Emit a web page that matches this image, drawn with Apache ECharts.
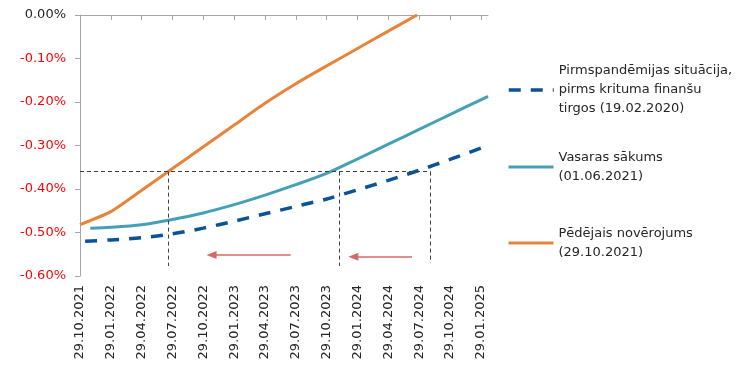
<!DOCTYPE html>
<html>
<head>
<meta charset="utf-8">
<script src="https://cdn.jsdelivr.net/npm/echarts@6/dist/echarts.min.js"></script>
<style>
html,body{margin:0;padding:0;background:#fff;}
#chart{width:750px;height:369px;}
</style>
</head>
<body>
<div id="chart"></div>
<script>
// ---- data ----
const tickLabels = ['29.10.2021','29.01.2022','29.04.2022','29.07.2022','29.10.2022','29.01.2023','29.04.2023','29.07.2023','29.10.2023','29.01.2024','29.04.2024','29.07.2024','29.10.2024','29.01.2025'];
const tickMonths = [0,3,6,9,12,15,18,21,24,27,30,33,36,39]; // months after 29.10.2021
const xMaxMonths = 39.7;

const seriesNames = [
  'Pirmspandēmijas situācija,\npirms krituma finanšu\ntirgos (19.02.2020)',
  'Vasaras sākums\n(01.06.2021)',
  'Pēdējais novērojums\n(29.10.2021)'
];

const preMonths = [0.5,3,6,9,12,15,18,21,24,27,30,33,36,39];
const preVals   = [-0.520,-0.517,-0.512,-0.503,-0.490,-0.474,-0.457,-0.440,-0.423,-0.402,-0.380,-0.357,-0.332,-0.306];

const summerMonths = [1,3,6,9,12,15,18,21,24,27,30,33,36,39,39.7];
const summerVals   = [-0.490,-0.488,-0.482,-0.470,-0.455,-0.436,-0.414,-0.390,-0.364,-0.331,-0.297,-0.263,-0.229,-0.195,-0.187];

const lastMonths = [0,3,6,9,12,15,18,21,24,27,30,32.8];
const lastVals   = [-0.482,-0.452,-0.403,-0.353,-0.303,-0.253,-0.203,-0.158,-0.117,-0.077,-0.037,0.000];

// annotation values
const refLevel = -0.36;
const crossMonths = [8.6, 25.2, 34.1];
const crossBottoms = [-0.577, -0.577, -0.570];
const arrowFrom = [20.5, 32.3];
const arrowTo = [12.8, 26.6];
const arrowLevels = [-0.552, -0.556];

// ---- build ----
const zip = (xs, ys) => xs.map((x, i) => [x, ys[i]]);
const FONT = 'DejaVu Sans';
const TXT = '#262626';
const COLORS = ['#0b5394', '#45a0b6', '#e8843a'];
const WIDTHS = [3.5, 3, 3];

const refLines = [[{coord:[0, refLevel]},{coord:[crossMonths[2], refLevel]}]];
crossMonths.forEach((m, i) => refLines.push([{coord:[m, refLevel]},{coord:[m, crossBottoms[i]]}]));
const arrows = arrowFrom.map((m, i) => [{coord:[m, arrowLevels[i]]},{coord:[arrowTo[i], arrowLevels[i]]}]);

const legendTops = [42.5, 138.5, 214.5];
const legendPads = [38, 19, 19];

const chart = echarts.init(document.getElementById('chart'), null, {renderer:'canvas'});
chart.setOption({
  animation: false,
  backgroundColor: '#fff',
  grid: {left: 80, right: 262, top: 15, bottom: 93, containLabel: false, outerBoundsMode: 'none'},
  xAxis: [{
    type: 'value', min: 0, max: xMaxMonths, interval: 3, position: 'bottom',
    axisLine: {show: false}, axisTick: {show: false}, splitLine: {show: false},
    axisLabel: {
      show: true, rotate: 90, margin: 9, fontFamily: FONT, fontSize: 13, color: TXT,
      customValues: tickMonths,
      formatter: v => { const i = tickMonths.indexOf(v); return i >= 0 ? tickLabels[i] : ''; }
    }
  }, {
    type: 'value', min: 0, max: xMaxMonths, interval: 3, position: 'top',
    axisLine: {show: true, lineStyle: {color: '#a6a6a6', width: 1}},
    axisTick: {show: true, inside: true, length: 5, lineStyle: {color: '#a6a6a6'}, customValues: tickMonths},
    axisLabel: {show: false}, splitLine: {show: false}
  }],
  yAxis: {
    type: 'value', min: -0.6, max: 0, interval: 0.1,
    axisLine: {show: true, lineStyle: {color: '#a6a6a6', width: 1}},
    axisTick: {show: true, length: 5, lineStyle: {color: '#a6a6a6'}},
    splitLine: {show: false},
    axisLabel: {
      margin: 14, fontFamily: FONT, fontSize: 13,
      color: v => (Math.abs(v) < 1e-9 ? TXT : '#ff0000'),
      formatter: v => (Math.abs(v) < 1e-9 ? 0 : v).toFixed(2) + '%'
    }
  },
  legend: seriesNames.map((n, i) => ({
    left: 507, top: legendTops[i], orient: 'vertical', padding: 0,
    itemWidth: 45, itemHeight: 14, selectedMode: false,
    data: [n],
    itemStyle: {opacity: 0},
    lineStyle: {width: WIDTHS[i], color: COLORS[i], opacity: 1},
    textStyle: {fontFamily: FONT, fontSize: 13, color: TXT, lineHeight: 19, padding: [legendPads[i], 0, 0, 0]}
  })),
  series: [{
    name: seriesNames[0], type: 'line', data: zip(preMonths, preVals),
    symbol: 'none', showSymbol: false, smooth: 0.3,
    lineStyle: {color: COLORS[0], width: WIDTHS[0], type: [12, 10], cap: 'butt'},
    itemStyle: {color: COLORS[0]}
  }, {
    name: seriesNames[1], type: 'line', data: zip(summerMonths, summerVals),
    symbol: 'none', showSymbol: false, smooth: 0.3,
    lineStyle: {color: COLORS[1], width: WIDTHS[1]},
    itemStyle: {color: COLORS[1]},
    markLine: {
      silent: true, symbol: ['none', 'triangle'], symbolSize: [8, 10],
      label: {show: false},
      lineStyle: {color: '#d26a68', width: 1.5, type: 'solid', opacity: 1},
      data: arrows
    }
  }, {
    name: seriesNames[2], type: 'line', data: zip(lastMonths, lastVals),
    symbol: 'none', showSymbol: false, smooth: 0.2, clip: true,
    lineStyle: {color: COLORS[2], width: WIDTHS[2]},
    itemStyle: {color: COLORS[2]},
    markLine: {
      silent: true, symbol: ['none', 'none'],
      label: {show: false},
      lineStyle: {color: '#404040', width: 1, type: [4, 3]},
      data: refLines
    }
  }]
});
</script>
</body>
</html>
